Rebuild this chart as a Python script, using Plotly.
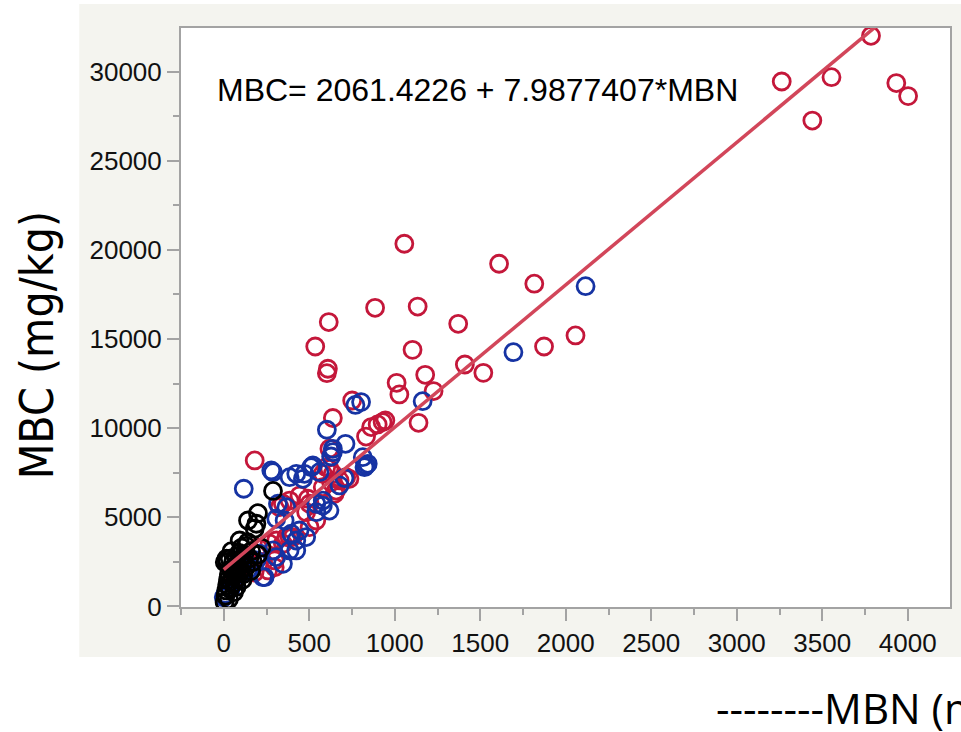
import plotly.graph_objects as go

# Regression fit reported for MBC on MBN
intercept = 2061.4226
slope = 7.9877407

# Group 1 (red)
red_mbn = [3785, 3263, 3554, 3442, 3933, 4002, 1056, 1610, 1816, 1134, 1371, 885, 614,
           1104, 1873, 2057, 535, 1410, 1518, 609, 603, 1178, 1011, 1227, 1027, 751, 638,
           1139, 862, 900, 929, 945, 832, 618, 181, 599, 638, 677, 716, 657, 735, 579,
           618, 628, 648, 502, 482, 443, 492, 346, 327, 385, 385, 346, 307, 268, 298, 366,
           404, 502, 541, 132, 298, 259, 142, 120, 200, 60, 180, 230, 579]
red_mbc = [32000, 29440, 29680, 27250, 29350, 28620, 20340, 19220, 18100, 16820, 15850, 16750, 15950,
           14390, 14580, 15200, 14580, 13570, 13100, 13330, 13080, 12990, 12540, 12080, 11890, 11550, 10570,
           10300, 10060, 10210, 10340, 10430, 9530, 8850, 8190, 7810, 7440, 7070, 7250, 6500, 7160, 7440,
           7720, 6970, 6320, 5760, 5290, 6220, 6040, 5760, 5570, 5940, 3890, 3520, 3700, 3520, 2200, 3890,
           3890, 4450, 4820, 2770, 2580, 2020, 2680, 2300, 3300, 1500, 1900, 2500, 6690]

# Group 2 (blue)
blue_mbn = [2116, 1694, 1163, 803, 770, 603, 712, 638, 628, 813, 842, 823, 832, 288, 278, 117,
            385, 424, 463, 511, 560, 638, 579, 618, 541, 541, 579, 366, 317, 307, 356, 424,
            424, 395, 229, 307, 288, 346, 385, 443, 482, 706, 677, 521, 472, 191, 210, 10,
            0, 40, 70, 100, 150, 239]
blue_mbc = [17960, 14260, 11510, 11460, 11300, 9910, 9120, 8650, 8410, 8370, 8000, 7810, 7910, 7530, 7630, 6600,
            7250, 7440, 7160, 7810, 7530, 8840, 5940, 5380, 5290, 5760, 5660, 5570, 5760, 4920, 4820, 3700,
            3140, 4080, 1640, 2770, 3140, 2390, 3140, 4260, 3890, 7200, 6790, 7910, 7440, 2580, 2960, 700,
            520, 1000, 1400, 1800, 2100, 1640]

# Group 3 (black)
black_mbn = [5, 10, 15, 20, 25, 30, 35, 40, 45, 50, 55, 60, 65, 70, 75, 80, 85, 90, 95, 100,
             105, 110, 115, 120, 130, 140, 150, 160, 170, 181, 191, 200, 20, 35, 93, 142, 288,
             60, 30, 75, 110, 130, 45, 160, 200, 220, 16, 6]
black_mbc = [250, 600, 900, 1200, 1500, 1800, 1000, 1400, 2100, 1700, 2500, 1300, 2200, 1900, 2800, 1600,
             2300, 3000, 2600, 2000, 3300, 2400, 1800, 2900, 2200, 3600, 2700, 3100, 2500, 4360, 4640, 5230,
             2500, 2680, 3700, 4820, 6480, 800, 400, 1100, 1500, 3400, 3100, 2000, 2900, 3300, 2680, 2480]

x_ticks = [0, 500, 1000, 1500, 2000, 2500, 3000, 3500, 4000]
y_ticks = [0, 5000, 10000, 15000, 20000, 25000, 30000]

RED = "#c4173a"
BLUE = "#1633a3"
BLACK = "#000000"
LINE = "#d2465a"
AXIS_GRAY = "#a3a3a3"
PANEL = "#f4f4ef"

# plot area in pixels
W, H = 961, 732
L, R, T, B = 181, 9, 28, 125
pw, ph = W - L - R, H - T - B


def px_x(p):
    return (p - L) / pw


def px_y(p):
    return (H - B - p) / ph


def ring(xs, ys, color):
    return go.Scatter(
        x=xs, y=ys, mode="markers", showlegend=False, hoverinfo="skip",
        marker=dict(symbol="circle-open", size=17, color=color,
                    line=dict(color=color, width=2.8)),
    )


fig = go.Figure()
fig.add_trace(ring(red_mbn, red_mbc, RED))
fig.add_trace(ring(blue_mbn, blue_mbc, BLUE))
fig.add_trace(ring(black_mbn, black_mbc, BLACK))

all_mbn = red_mbn + blue_mbn + black_mbn
x0, x1 = min(all_mbn), max(all_mbn)
fig.add_trace(go.Scatter(
    x=[x0, x1], y=[intercept + slope * x0, intercept + slope * x1],
    mode="lines", line=dict(color=LINE, width=3.5), showlegend=False, hoverinfo="skip",
))

tickfont = dict(family="Liberation Sans, Arial, sans-serif", size=26, color="#111111")

fig.update_layout(
    width=W, height=H,
    margin=dict(l=L, r=R, t=T, b=B, pad=0),
    paper_bgcolor="white",
    plot_bgcolor="white",
    shapes=[
        dict(type="rect", xref="paper", yref="paper", layer="below",
             x0=px_x(79), x1=px_x(975), y0=px_y(657), y1=px_y(4),
             fillcolor=PANEL, line=dict(width=0)),
        dict(type="rect", xref="paper", yref="paper", layer="below",
             x0=0, x1=1, y0=0, y1=1, fillcolor="white", line=dict(width=0)),
    ],
    xaxis=dict(
        range=[-250, 4247], tickvals=x_ticks, ticktext=[str(v) for v in x_ticks],
        ticks="outside", ticklen=12, tickwidth=2, tickcolor=AXIS_GRAY,
        minor=dict(dtick=250, tick0=0, ticks="outside", ticklen=6, tickwidth=2, tickcolor=AXIS_GRAY),
        showgrid=False, zeroline=False, showline=True, linecolor=AXIS_GRAY, linewidth=2, mirror=True,
        tickfont=tickfont,
    ),
    yaxis=dict(
        range=[-30, 32440], tickvals=y_ticks, ticktext=[str(v) for v in y_ticks],
        ticks="outside", ticklen=12, tickwidth=2, tickcolor=AXIS_GRAY,
        minor=dict(dtick=2500, tick0=0, ticks="outside", ticklen=6, tickwidth=2, tickcolor=AXIS_GRAY),
        showgrid=False, zeroline=False, showline=True, linecolor=AXIS_GRAY, linewidth=2, mirror=True,
        tickfont=tickfont,
    ),
    annotations=[
        dict(text="MBC= 2061.4226 + 7.9877407*MBN", xref="paper", yref="paper",
             x=px_x(215), y=px_y(90), xanchor="left", yanchor="middle", showarrow=False,
             font=dict(family="Liberation Sans, Arial, sans-serif", size=32, color="black")),
        dict(text="MBC (mg/kg)", xref="paper", yref="paper", textangle=-90,
             x=px_x(37), y=px_y(345), xanchor="center", yanchor="middle", showarrow=False,
             font=dict(family="Liberation Sans Narrow, Arial Narrow, DejaVu Sans Condensed, sans-serif",
                       size=46, color="black")),
        dict(text="--------MBN (mg/kg)", xref="paper", yref="paper",
             x=px_x(715), y=px_y(708), xanchor="left", yanchor="middle", showarrow=False,
             font=dict(family="Open Sans, sans-serif", size=42, color="black")),
    ],
)

fig.write_html("out.html")
